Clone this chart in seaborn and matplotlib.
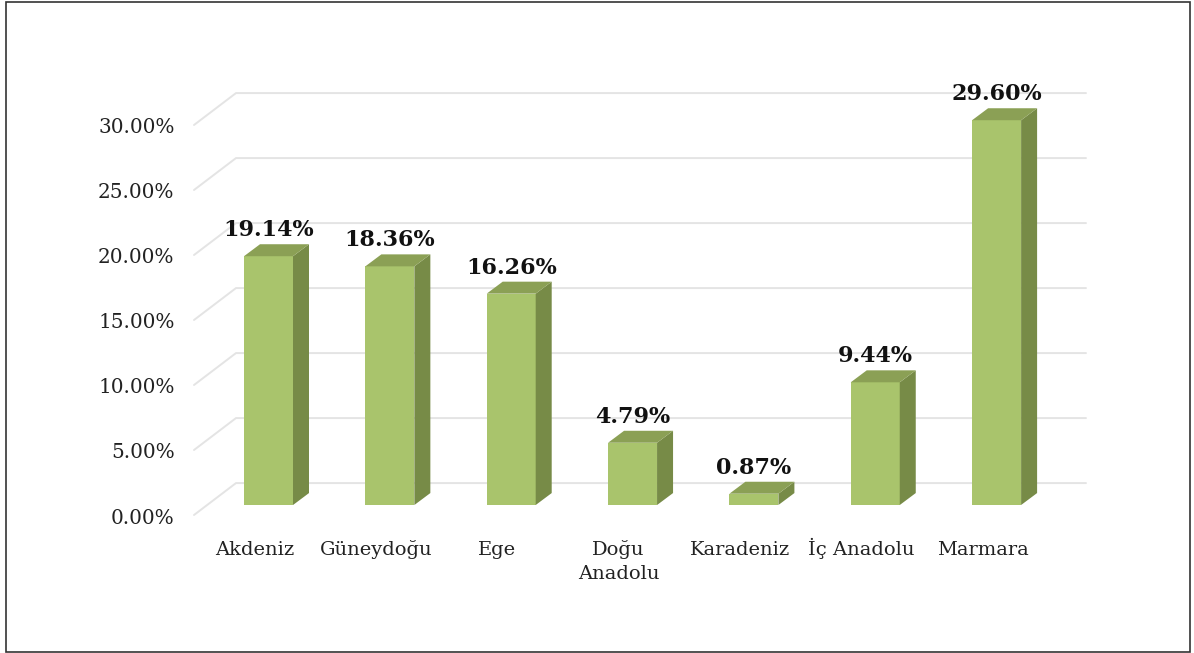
import numpy as np
import pandas as pd
import matplotlib
matplotlib.use("Agg")
import matplotlib.pyplot as plt
from matplotlib.patches import Rectangle
import seaborn as sns

regions = ["Akdeniz", "Güneydoğu", "Ege", "Doğu\nAnadolu", "Karadeniz", "İç Anadolu", "Marmara"]
shares = [19.14, 18.36, 16.26, 4.79, 0.87, 9.44, 29.60]
tick_values = [0, 5, 10, 15, 20, 25, 30]

sns.set_theme(style="white")
plt.rcParams["font.family"] = ["DejaVu Serif"]

W, H = 1194, 653
fig = plt.figure(figsize=(W / 100, H / 100), dpi=100)

# pixel geometry of the chart plane
first_center, spacing = 268.5, 121.35
base_px, per_unit = 506.0, 13.03
left_px, right_px, bottom_px, top_px = 194.0, 1086.0, 516.0, 80.0
ax = fig.add_axes([left_px / W, 1 - bottom_px / H, (right_px - left_px) / W, (bottom_px - top_px) / H])

df = pd.DataFrame({"region": regions, "share": shares})
FRONT, SIDE, TOP = "#a9c46c", "#778b47", "#8ba055"
sns.barplot(data=df, x="region", y="share", color=FRONT, saturation=1, width=49 / spacing,
            ax=ax, zorder=3, linewidth=0)

ax.set_xlim((left_px - first_center) / spacing, (right_px - first_center) / spacing)
ax.set_ylim((base_px - bottom_px) / per_unit, (base_px - top_px) / per_unit)

# walls: floor offset of the front plane and the depth of the grid
front_off = (base_px - bottom_px) / per_unit          # negative
wall_dy = 32 / per_unit
wall_dx = 42 / spacing
x0 = ax.get_xlim()[0]
x1 = ax.get_xlim()[1]
GRID = "#e4e4e4"
for v in tick_values:
    yf = v + front_off
    ax.plot([x0, x0 + wall_dx, x1], [yf, yf + wall_dy, yf + wall_dy], color=GRID, lw=1.4,
            zorder=1, solid_joinstyle="miter", clip_on=False)

# bar depth faces
half = 0.5 * 49 / spacing
dx, dy = 16 / spacing, 12 / per_unit
for i, v in enumerate(shares):
    ax.fill([i + half, i + half + dx, i + half + dx, i + half],
            [0, dy, v + dy, v], color=SIDE, lw=0, zorder=3)
    ax.fill([i - half, i + half, i + half + dx, i - half + dx],
            [v, v, v + dy, v + dy], color=TOP, lw=0, zorder=3)
    ax.annotate(f"{v:.2f}%", xy=(i, v + dy), xytext=(0, 10), textcoords="offset points",
                ha="center", va="center", fontsize=16, fontweight="bold", color="#111111", zorder=5)

ax.set_yticks([v + front_off - 1 / per_unit for v in tick_values])
ax.set_yticklabels([f"{v:.2f}%" for v in tick_values], fontsize=14.4, color="#222222")
ax.set_xticks([i - 14 / spacing for i in range(len(regions))])
ax.set_xticklabels(regions, fontsize=14, color="#222222", linespacing=1.45, va="baseline")
ax.tick_params(axis="y", length=0, pad=14)
ax.tick_params(axis="x", length=0, pad=28)
ax.xaxis.get_major_ticks()[regions.index("Doğu\nAnadolu")].set_pad(45.5)
ax.set_xlabel("")
ax.set_ylabel("")
for s in ax.spines.values():
    s.set_visible(False)
ax.patch.set_alpha(0)

fig.add_artist(Rectangle((6 / W, 1 - 651.5 / H), (1189.5 - 6) / W, (651.5 - 1.5) / H,
                         transform=fig.transFigure, fill=False, edgecolor="#333333", lw=1.2))
fig.savefig("out.png", dpi=100, facecolor="white")
